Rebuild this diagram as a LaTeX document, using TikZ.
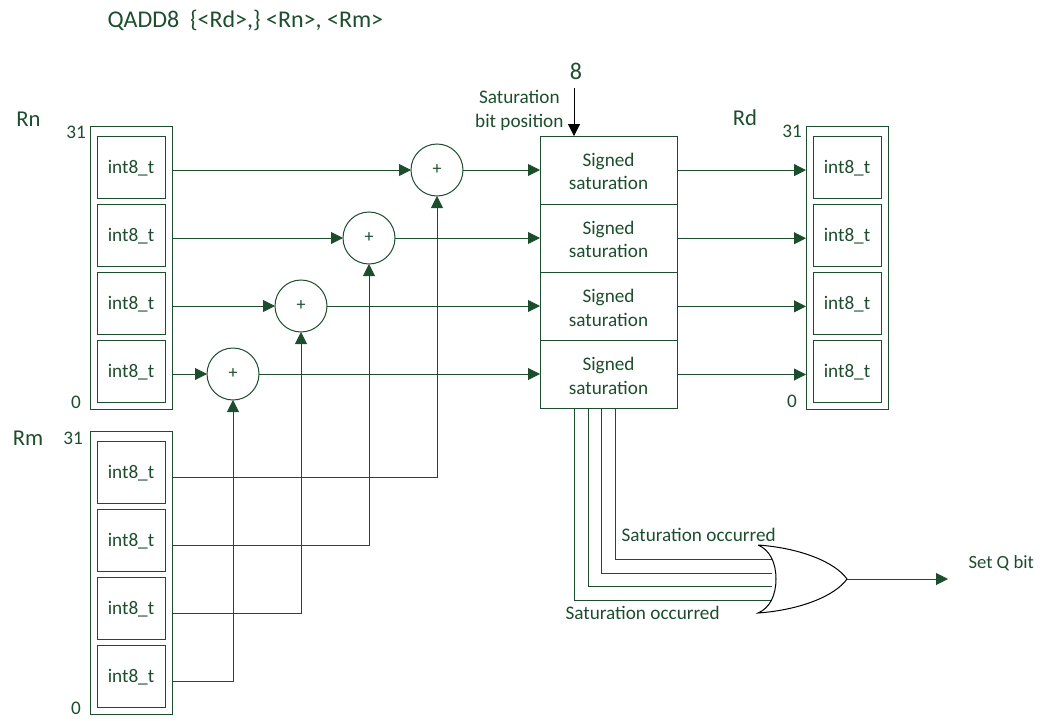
\documentclass[tikz,border=0pt]{standalone}
\usepackage{fontspec}
\setmainfont{Carlito}
\usetikzlibrary{arrows.meta,positioning}
\definecolor{armgreen}{RGB}{28,78,46}

\begin{document}
\begin{tikzpicture}[x=0.75pt,y=-0.75pt,font=\fontsize{14.4}{17}\selectfont,
    >={Triangle[length=9pt,width=9pt]},line width=0.75pt,
    every node/.style={text=armgreen},
    wire/.style={draw=armgreen},
    reg/.style={draw=armgreen,minimum width=61.5pt,minimum height=212.25pt,inner sep=0pt,outer sep=0pt},
    fld/.style={draw=armgreen,minimum width=51pt,minimum height=46.5pt,inner sep=0pt,outer sep=0pt,text height=11pt,text depth=1.6pt},
    sat/.style={draw=armgreen,minimum width=102.75pt,minimum height=51.1pt,inner sep=0pt,outer sep=0pt,align=center,font=\fontsize{14.4}{17.5}\selectfont,text height=31.6pt,text depth=2pt},
    adder/.style={draw=armgreen,circle,minimum size=39pt,inner sep=0pt,outer sep=0pt,font=\fontsize{13.5}{16}\selectfont},
    big/.style={font=\fontsize{17}{20}\selectfont,inner sep=0pt}]
  \useasboundingbox (0,0) rectangle (1040,721);
  \node[anchor=west,inner sep=0pt,font=\fontsize{18}{22}\selectfont] (title) at (107,20) {QADD8\ \ \{<Rd>,\} <Rn>, <Rm>};
  % source and destination registers
  \node[reg] (rnbox) at (131,267.5) {};
  \node[reg] (rmbox) at (131,572.5) {};
  \node[reg] (rdbox) at (847,267.5) {};
  \node[big] (rnname) at (28.5,119) {Rn};
  \node[big] (rmname) at (28,438) {Rm};
  \node[big] (rdname) at (745,118) {Rd};
  \node[inner sep=0pt] (rntop) at (76,132.5) {31};
  \node[inner sep=0pt] (rnbot) at (76,402) {0};
  \node[inner sep=0pt] (rmtop) at (73,438) {31};
  \node[inner sep=0pt] (rmbot) at (76,708) {0};
  \node[inner sep=0pt] (rdtop) at (792,131) {31};
  \node[inner sep=0pt] (rdbot) at (792,401) {0};
  % byte lanes
  \node[fld] (n1) at (131,167) {int8\_t};
  \node[fld,below=4.5pt of n1] (n2) {int8\_t};
  \node[fld,below=4.5pt of n2] (n3) {int8\_t};
  \node[fld,below=4.5pt of n3] (n4) {int8\_t};
  \node[fld] (m1) at (131,472) {int8\_t};
  \node[fld,below=4.5pt of m1] (m2) {int8\_t};
  \node[fld,below=4.5pt of m2] (m3) {int8\_t};
  \node[fld,below=4.5pt of m3] (m4) {int8\_t};
  \node[fld] (d1) at (847,167) {int8\_t};
  \node[fld,below=4.5pt of d1] (d2) {int8\_t};
  \node[fld,below=4.5pt of d2] (d3) {int8\_t};
  \node[fld,below=4.5pt of d3] (d4) {int8\_t};
  % saturation stack
  \node[sat] (s1) at (608.5,170.1) {Signed\\saturation};
  \node[sat,below=0pt of s1] (s2) {Signed\\saturation};
  \node[sat,below=0pt of s2] (s3) {Signed\\saturation};
  \node[sat,below=0pt of s3] (s4) {Signed\\saturation};
  \node[inner sep=0pt] (eight) at (576,71) {\fontsize{18}{20}\selectfont 8};
  \node[inner sep=0pt,align=center,anchor=east,font=\fontsize{14.4}{17.5}\selectfont] (satpos) at (564,110.5) {Saturation\\bit position};
  \coordinate (bitin) at (574,88);
  \draw[->,black] (bitin) -- (bitin |- s1.north);
  % adders
  \node[adder] (a1) at (437,170) {+};
  \node[adder] (a2) at (369,238) {+};
  \node[adder] (a3) at (301,306) {+};
  \node[adder] (a4) at (233,374) {+};
  \foreach \a/\s/\m in {a1/s1/m1,a2/s2/m2,a3/s3/m3,a4/s4/m4} {
    \draw[wire,->] (rnbox.east |- \a) -- (\a);
    \draw[wire,->] (\a) -- (\a -| \s.west);
    \draw[wire,->] (\s.east) -- (rdbox.west |- \s);
    \draw[wire,->] ([yshift=-3.75pt]rmbox.east |- \m) -| (\a);
  }
  % saturation flags into the OR gate
  \coordinate (q1) at (772,559);
  \coordinate (q2) at (772,573);
  \coordinate (q3) at (772,586);
  \coordinate (q4) at (772,600);
  \coordinate (orout) at (847,579);
  \coordinate (qbit) at (948,579);
  \draw[wire] (615,409) |- (q1);
  \draw[wire] (601,409) |- (q2);
  \draw[wire] (588,409) |- (q3);
  \draw[wire] (574,409) |- (q4);
  \draw[black] (758,545) .. controls (800,548) and (835,562) .. (orout)
    .. controls (835,596) and (800,610) .. (758,613)
    .. controls (770,608) and (776,595) .. (776,579)
    .. controls (776,563) and (770,550) .. (758,545);
  \draw[wire,->] (orout) -- (qbit);
  \node[anchor=west,inner sep=0pt,font=\fontsize{14}{17}\selectfont] (setq) at (968,563) {Set Q bit};
  \node[anchor=west,inner sep=0pt] (occtop) at (621,535) {Saturation occurred};
  \node[anchor=west,inner sep=0pt] (occbot) at (565,613) {Saturation occurred};
\end{tikzpicture}
\end{document}
